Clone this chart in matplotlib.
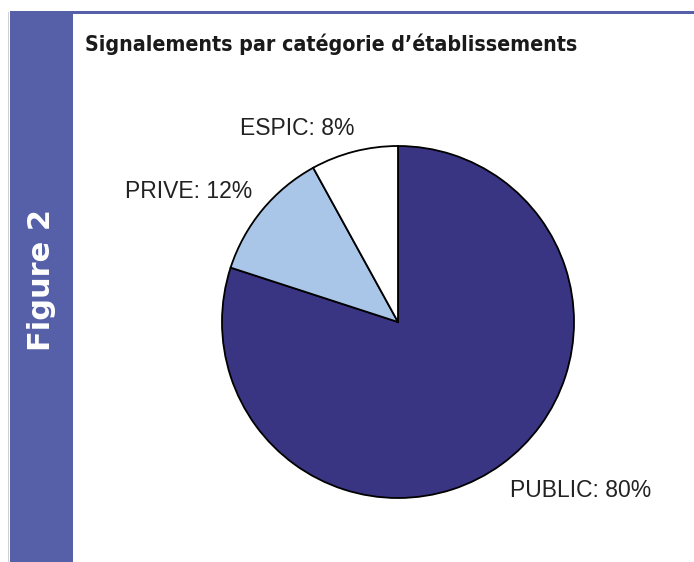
import matplotlib
matplotlib.use("Agg")
import matplotlib.pyplot as plt
from matplotlib.patches import Rectangle

# data
categories = ["PUBLIC", "PRIVE", "ESPIC"]
shares = [80, 12, 8]
colors = ["#3a3582", "#a9c6e8", "#ffffff"]
# label positions (axes data coords, pie radius = 1)
label_pos = {"PUBLIC": (1.04, -0.96), "PRIVE": (-1.19, 0.74), "ESPIC": (-0.57, 1.10)}

fig = plt.figure(figsize=(6.94, 5.62), dpi=100)
W, H = 694, 562

# frame: sidebar + top rule
band = "#5560a8"
fig.add_artist(Rectangle((10 / W, 0), 63 / W, 1 - 12 / H, transform=fig.transFigure,
                         facecolor=band, edgecolor="none"))
fig.add_artist(Rectangle((10 / W, 1 - 14 / H), 1, 2.5 / H, transform=fig.transFigure,
                         facecolor=band, edgecolor="none"))
fig.add_artist(Rectangle((8 / W, 0), 1 / W, 1 - 12 / H, transform=fig.transFigure,
                         facecolor="#d0d0d8", edgecolor="none"))

fig.text(42 / W, 1 - 280 / H, "Figure 2", rotation=90, color="white",
         fontsize=22, fontweight="heavy", family="DejaVu Sans",
         ha="center", va="center")

fig.text(85 / W, 1 - 44 / H, "Signalements par catégorie d\u2019établissements",
         fontsize=15.3, fontweight="bold", fontstretch="condensed",
         family="DejaVu Sans",
         ha="left", va="center", color="#1a1a1a")

# pie
cx, cy, r = 398, 322, 176
ax = fig.add_axes([(cx - r) / W, (H - cy - r) / H, 2 * r / W, 2 * r / H])
ax.pie(shares, colors=colors, startangle=90, counterclock=False,
       wedgeprops=dict(edgecolor="black", linewidth=1.3))
ax.set_xlim(-1, 1)
ax.set_ylim(-1, 1)
ax.set_aspect("equal")
ax.axis("off")

for cat, val in zip(categories, shares):
    x, y = label_pos[cat]
    ax.text(x, y, f"{cat}: {val}%", fontsize=16.5, color="#222222",
            family=["Liberation Sans", "DejaVu Sans"],
            ha="center", va="center", clip_on=False)

fig.savefig("out.png", dpi=100)
